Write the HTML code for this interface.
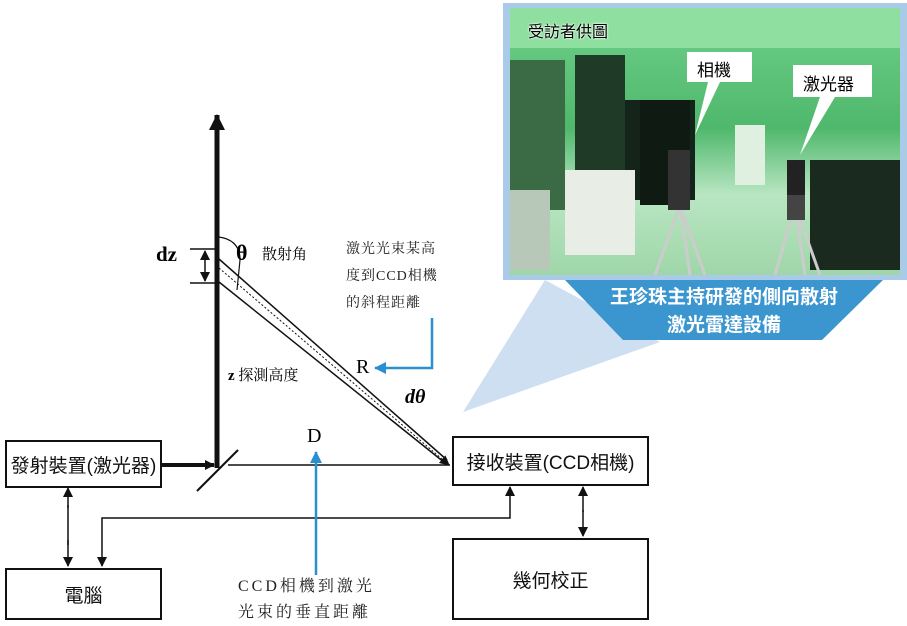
<!DOCTYPE html>
<html><head><meta charset="utf-8"><style>
body{margin:0;width:907px;height:623px;background:#fff;overflow:hidden;position:relative;font-family:"Liberation Sans","Noto Sans CJK TC",sans-serif}
.box{position:absolute;border:2px solid #111;background:#fff;box-sizing:border-box;display:flex;align-items:center;justify-content:center;font-size:19px;color:#111}
.serif{font-family:"Liberation Serif","Noto Serif CJK SC",serif}
</style></head><body>
<svg width="907" height="623" style="position:absolute;left:0;top:0">
<defs>
<marker id="a" markerWidth="10" markerHeight="10" refX="9" refY="5" orient="auto" markerUnits="userSpaceOnUse"><path d="M0,0 L10,5 L0,10 z" fill="#111"/></marker>
<marker id="ab" markerWidth="12" markerHeight="12" refX="11" refY="6" orient="auto" markerUnits="userSpaceOnUse"><path d="M0,0 L12,6 L0,12 z" fill="#2a8fd0"/></marker>
<marker id="big" markerWidth="16" markerHeight="16" refX="15" refY="8" orient="auto" markerUnits="userSpaceOnUse"><path d="M0,0 L16,8 L0,16 z" fill="#111"/></marker>
<linearGradient id="g" x1="0" y1="0" x2="0" y2="1"><stop offset="0" stop-color="#6fd08a"/><stop offset="0.45" stop-color="#4fb86c"/><stop offset="0.7" stop-color="#b9e6c2"/><stop offset="1" stop-color="#9fd6a8"/></linearGradient>
</defs>
<polygon points="545,280 660,342 463,412" fill="#cddff0"/>
<rect x="503" y="3" width="404" height="277" fill="#a9cbe8"/>
<rect x="510" y="8" width="390" height="267" fill="url(#g)"/>
<rect x="510" y="8" width="390" height="40" fill="#8fe0a0"/>
<rect x="510" y="60" width="55" height="150" fill="#3a6b45"/>
<rect x="575" y="55" width="50" height="140" fill="#1f3a26"/>
<rect x="625" y="100" width="70" height="100" fill="#14241a"/>
<rect x="640" y="100" width="50" height="105" fill="#0f1a12"/>
<rect x="565" y="170" width="70" height="85" fill="#e8eee6"/>
<rect x="510" y="190" width="40" height="80" fill="#b8c8b8"/>
<rect x="735" y="125" width="30" height="60" fill="#e0f0e0"/>
<rect x="810" y="160" width="90" height="110" fill="#1a2a1e"/>
<rect x="787" y="160" width="18" height="35" fill="#222"/>
<path d="M680,205 L655,275 M680,205 L690,275 M680,205 L705,275 M795,205 L775,275 M795,205 L805,275 M795,205 L820,275" stroke="#ccc" stroke-width="3"/>
<rect x="668" y="150" width="22" height="60" fill="#333"/>
<rect x="787" y="195" width="18" height="25" fill="#444"/>
<polygon points="687,52 752,52 752,82 720,82 695,135 708,82 687,82" fill="#fff"/>
<polygon points="793,65 872,65 872,97 835,97 800,155 820,97 793,97" fill="#fff"/>
<polygon points="565,280 883,280 822,340 623,340" fill="#3b96d0"/>
<line x1="217" y1="468" x2="217" y2="115" stroke="#111" stroke-width="5" marker-end="url(#big)"/>
<line x1="160" y1="465" x2="214" y2="465" stroke="#111" stroke-width="4" marker-end="url(#a)"/>
<line x1="197" y1="491" x2="238" y2="450" stroke="#111" stroke-width="2"/>
<line x1="228" y1="465" x2="450" y2="465" stroke="#111" stroke-width="1.5"/>
<line x1="219" y1="259" x2="447" y2="460" stroke="#111" stroke-width="1.5"/>
<line x1="219" y1="282" x2="445" y2="463" stroke="#111" stroke-width="1.5"/>
<line x1="219" y1="268" x2="449" y2="465" stroke="#111" stroke-width="1" stroke-dasharray="2,2" marker-end="url(#a)"/>
<path d="M219,237 Q240,240 240,260 L237,290" fill="none" stroke="#111" stroke-width="1.2"/>
<line x1="190" y1="249" x2="215" y2="249" stroke="#111" stroke-width="1.5"/>
<line x1="190" y1="283" x2="215" y2="283" stroke="#111" stroke-width="1.5"/>
<line x1="205" y1="266" x2="205" y2="251" stroke="#111" stroke-width="1.5" marker-end="url(#a)"/>
<line x1="205" y1="266" x2="205" y2="281" stroke="#111" stroke-width="1.5" marker-end="url(#a)"/>
<line x1="68" y1="508" x2="68" y2="488" stroke="#111" stroke-width="1.5" marker-end="url(#a)"/>
<line x1="68" y1="540" x2="68" y2="566" stroke="#111" stroke-width="1.5" marker-end="url(#a)"/>
<line x1="68" y1="505" x2="68" y2="545" stroke="#111" stroke-width="1.5"/>
<polyline points="510,505 510,518 102,518 102,566" fill="none" stroke="#111" stroke-width="1.5" marker-end="url(#a)"/>
<line x1="510" y1="505" x2="510" y2="487" stroke="#111" stroke-width="1.5" marker-end="url(#a)"/>
<line x1="583" y1="512" x2="583" y2="487" stroke="#111" stroke-width="1.5" marker-end="url(#a)"/>
<line x1="583" y1="510" x2="583" y2="536" stroke="#111" stroke-width="1.5" marker-end="url(#a)"/>
<line x1="316" y1="575" x2="316" y2="452" stroke="#2a8fd0" stroke-width="2.5" marker-end="url(#ab)"/>
<polyline points="432,318 432,368 375,368" fill="none" stroke="#2a8fd0" stroke-width="2.5" marker-end="url(#ab)"/>
</svg>
<div class="box" style="left:5px;top:440px;width:157px;height:48px">發射裝置(激光器)</div>
<div class="box" style="left:5px;top:568px;width:157px;height:52px">電腦</div>
<div class="box" style="left:452px;top:436px;width:197px;height:50px">接收裝置(CCD相機)</div>
<div class="box" style="left:452px;top:538px;width:197px;height:82px">幾何校正</div>
<div class="serif" style="position:absolute;left:156px;top:242px;font-size:21px;font-weight:bold">dz</div>
<div class="serif" style="position:absolute;left:236px;top:240px;font-size:22px;font-weight:bold">θ</div>
<div class="serif" style="position:absolute;left:262px;top:243px;font-size:15px">散射角</div>
<div class="serif" style="position:absolute;left:346px;top:236px;font-size:14px;line-height:27px;letter-spacing:1px;color:#222">激光光束某高<br>度到CCD相機<br>的斜程距離</div>
<div class="serif" style="position:absolute;left:228px;top:364px;font-size:15px"><b>z</b> 探測高度</div>
<div class="serif" style="position:absolute;left:356px;top:356px;font-size:20px">R</div>
<div class="serif" style="position:absolute;left:405px;top:386px;font-size:20px;font-weight:bold;font-style:italic">dθ</div>
<div class="serif" style="position:absolute;left:307px;top:425px;font-size:20px">D</div>
<div class="serif" style="position:absolute;left:238px;top:574px;font-size:16px;line-height:26px;letter-spacing:3px;color:#222">CCD相機到激光<br>光束的垂直距離</div>
<div style="position:absolute;left:528px;top:18px;font-size:16px;color:#000;text-shadow:0 0 2px #fff,0 0 2px #fff">受訪者供圖</div>
<div style="position:absolute;left:697px;top:56px;font-size:17px;color:#000">相機</div>
<div style="position:absolute;left:803px;top:70px;font-size:17px;color:#000">激光器</div>
<div style="position:absolute;left:565px;top:284px;width:318px;text-align:center;font-size:19px;font-weight:bold;color:#fff;line-height:28px">王珍珠主持研發的側向散射<br>激光雷達設備</div>
</body></html>
